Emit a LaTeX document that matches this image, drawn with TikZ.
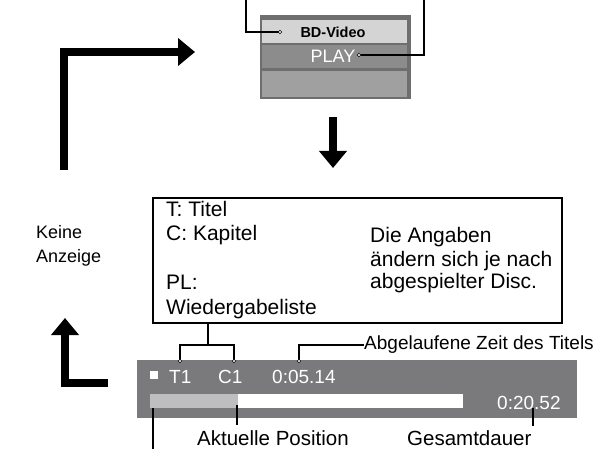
\documentclass[tikz,border=0pt]{standalone}
\usepackage{fontspec}
\setmainfont{Liberation Sans}
\usetikzlibrary{arrows.meta, positioning}

\definecolor{framegray}{RGB}{110,110,110}
\definecolor{rowlight}{RGB}{212,212,212}
\definecolor{rowmid}{RGB}{140,140,140}
\definecolor{rowlow}{RGB}{160,160,160}
\definecolor{bargray}{RGB}{122,122,124}
\definecolor{tracklight}{RGB}{190,190,192}

\tikzset{
    txt/.style={inner sep=0pt, anchor=base west, font=\fontsize{19}{24}\selectfont},
    boxtxt/.style={txt, font=\fontsize{21}{24}\selectfont},
    bartxt/.style={txt, text=white},
    leader/.style={line width=1.6pt, line join=miter},
    enddot/.style={circle, fill=white, draw=black, line width=0.6pt, inner sep=0pt, minimum size=3.5pt},
    bigarrow/.style={line width=8.5pt, line join=miter,
        -{Triangle[length=17pt, width=27pt]}}
}

\begin{document}
\begin{tikzpicture}[x=1pt, y=-1pt]

    \useasboundingbox (0,0) rectangle (600,449);

    % =================================================================
    % OBEN: ANZEIGE BD-Video / PLAY
    % =================================================================
    \fill[framegray] (260,15) rectangle (411,99);
    \fill[rowlight] (262,20) rectangle (407,43);
    \fill[rowmid] (262,45) rectangle (407,68);
    \fill[rowlow] (262,71) rectangle (407,97);

    \node[font=\bfseries\fontsize{14.5}{16}\selectfont] (bdvideo) at (333,32) {BD-Video};
    \node[font=\fontsize{18}{20}\selectfont, text=white, inner sep=0pt] (play) at (333,56) {PLAY};

    % Hinweislinien oben (nach oben abgeschnitten)
    \coordinate (bdend) at (280,32);
    \coordinate (playend) at (359,55);
    \draw[leader] (bdend) -- (246,32) -- (246,0);
    \draw[leader] (playend) -- (424,55) -- (424,0);
    \node[enddot] at (bdend) {};
    \node[enddot] at (playend) {};

    % =================================================================
    % PFEILE
    % =================================================================
    \coordinate (downtop) at (333,117);
    \coordinate (downtip) at (333,168);
    \draw[bigarrow] (downtop) -- (downtip);

    \coordinate (upstart) at (64,170);
    \coordinate (upcorner) at (64,52);
    \coordinate (uptip) at (195,52);
    \draw[bigarrow] (upstart) -- (upcorner) -- (uptip);

    \coordinate (lowstart) at (108,383);
    \coordinate (lowcorner) at (65,383);
    \coordinate (lowtip) at (65,318);
    \draw[bigarrow] (lowstart) -- (lowcorner) -- (lowtip);

    \node[txt, font=\fontsize{18}{24}\selectfont] (keine) at (36,239) {Keine};
    \node[txt, font=\fontsize{18}{24}\selectfont] (anzeige) at (36,263) {Anzeige};

    % =================================================================
    % INFOKASTEN
    % =================================================================
    \draw[line width=2.2pt] (153,198) rectangle (562,323);
    \coordinate (boxbottom) at (208,323);

    \node[boxtxt] (titel) at (166,217) {T: Titel};
    \node[boxtxt] (kapitel) at (166,241) {C: Kapitel};
    \node[boxtxt] (pl) at (166,290) {PL:};
    \node[boxtxt] (liste) at (166,314) {Wiedergabeliste};

    \node[boxtxt] (angaben1) at (370,243) {Die Angaben};
    \node[boxtxt] (angaben2) at (370,266) {ändern sich je nach};
    \node[boxtxt] (angaben3) at (370,289) {abgespielter Disc.};

    % =================================================================
    % UNTEN: STATUSLEISTE
    % =================================================================
    \fill[bargray] (137,360) rectangle (577,418);
    \fill[white] (150,394) rectangle (463,408);
    \fill[tracklight] (150,394) rectangle (238,408);
    \fill[white] (150,371) rectangle (158,379);

    \node[bartxt] (tone) at (169,383) {T1};
    \node[bartxt] (cone) at (218,383) {C1};
    \node[bartxt] (zeit) at (272,383) {0:05.14};
    \node[bartxt] (gesamt) at (497,409) {0:20.52};

    % Klammer T1 / C1
    \coordinate (tdot) at (180,361);
    \coordinate (cdot) at (234,361);
    \coordinate (zdot) at (299,361);
    \draw[leader] (boxbottom) -- (208,345);
    \draw[leader] (tdot) -- (180,345) -- (234,345) -- (cdot);
    \node[enddot] at (tdot) {};
    \node[enddot] at (cdot) {};

    % Abgelaufene Zeit
    \node[txt] (abgelaufen) at (364,349) {Abgelaufene Zeit des Titels};
    \draw[leader] (zdot) -- (299,345) -- (abgelaufen.west |- 0,345);
    \node[enddot] at (zdot) {};

    % Beschriftungen unten
    \node[txt, font=\fontsize{20.5}{24}\selectfont] (aktuell) at (197,445) {Aktuelle Position};
    \node[txt, font=\fontsize{20.5}{24}\selectfont] (dauer) at (407,445) {Gesamtdauer};
    \draw[leader] (153,408) -- (153,449);
    \draw[leader] (237,405) -- (237,425);
    \draw[leader] (533,408) -- (533,426);

\end{tikzpicture}
\end{document}
